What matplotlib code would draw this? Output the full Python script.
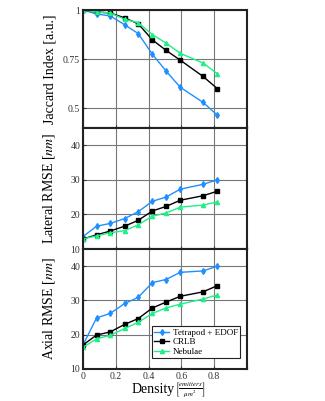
import matplotlib.pyplot as plt

plt.rcParams["font.family"] = ["Liberation Serif", "DejaVu Serif"]
plt.rcParams["mathtext.fontset"] = "stix"

# density values (emitters / um^2)
density = [0, 0.083, 0.166, 0.254, 0.337, 0.423, 0.506, 0.593, 0.732, 0.819]

# Jaccard index
jac_tetra = [1.0, 0.98, 0.97, 0.925, 0.88, 0.775, 0.69, 0.607, 0.53, 0.465]
jac_crlb = [1.0, 0.99, 0.985, 0.96, 0.93, 0.848, 0.795, 0.745, 0.662, 0.60]
jac_nebulae = [1.0, 0.99, 0.985, 0.953, 0.935, 0.875, 0.832, 0.78, 0.73, 0.676]

# lateral RMSE [nm]
lat_tetra = [13.6, 16.6, 17.4, 18.8, 20.8, 23.8, 25.0, 27.3, 28.7, 30.0]
lat_crlb = [12.9, 14.1, 15.2, 16.6, 18.3, 21.0, 22.3, 24.1, 25.4, 26.7]
lat_nebulae = [12.9, 13.8, 14.7, 15.3, 17.0, 19.5, 20.4, 22.1, 22.7, 23.6]

# axial RMSE [nm]
ax_tetra = [17.0, 24.9, 26.2, 29.1, 30.9, 35.2, 36.1, 38.2, 38.6, 40.0]
ax_crlb = [17.0, 19.9, 20.8, 23.0, 24.7, 27.8, 29.5, 31.2, 32.5, 34.3]
ax_nebulae = [16.3, 18.8, 19.8, 21.8, 23.6, 26.2, 27.8, 28.9, 30.4, 31.6]

labels = ["Tetrapod + EDOF", "CRLB", "Nebulae"]
colors = ["#1f8fff", "#000000", "#22ee88"]
markers = ["d", "s", "^"]

fig = plt.figure(figsize=(3.25, 4.01), dpi=100)
left, width = 0.2554, 0.5046
ax1 = fig.add_axes([left, 0.681, width, 0.294])
ax2 = fig.add_axes([left, 0.379, width, 0.302])
ax3 = fig.add_axes([left, 0.080, width, 0.299])

series = [
    (ax1, [jac_tetra, jac_crlb, jac_nebulae]),
    (ax2, [lat_tetra, lat_crlb, lat_nebulae]),
    (ax3, [ax_tetra, ax_crlb, ax_nebulae]),
]

for ax, ys in series:
    for y, c, m, lab in zip(ys, colors, markers, labels):
        ax.plot(density, y, color=c, marker=m, markersize=3, linewidth=1, label=lab)
    ax.set_xlim(0, 1)
    ax.set_xticks([0, 0.2, 0.4, 0.6, 0.8, 1.0])
    ax.grid(True, color="#777777", linewidth=0.8)
    ax.tick_params(direction="in", labelsize=7, length=2, colors="#333333", pad=2)
    for s in ax.spines.values():
        s.set_linewidth(1.5)
        s.set_color("#222222")
    ax.set_axisbelow(True)

ax1.set_ylim(0.4, 1)
ax1.set_yticks([0.5, 0.75, 1])
ax1.set_yticklabels(["0.5", "0.75", "1"])
ax1.set_ylabel("Jaccard Index [a.u.]", fontsize=10)

for ax in (ax2, ax3):
    ax.set_ylim(10, 45)
    ax.set_yticks([10, 20, 30, 40])

ax2.set_ylabel("Lateral RMSE [$nm$]", fontsize=10)
ax3.set_ylabel("Axial RMSE [$nm$]", fontsize=10)

for ax in (ax1, ax2):
    ax.set_xticklabels([])
ax3.set_xticklabels(["0", "0.2", "0.4", "0.6", "0.8", ""])

# x label in two parts: word at normal size, unit fraction smaller
fig.text(0.538, 0.02, "Density", fontsize=10, ha="right", va="baseline")
fig.text(0.538, 0.028, r"$\left[\frac{emitters}{\mu m^2}\right]$",
         fontsize=7, ha="left", va="center")

for ax in (ax1, ax2, ax3):
    ax.yaxis.set_label_coords(-0.16, 0.5)

leg = ax3.legend(loc="lower right", fontsize=6.5, frameon=True, fancybox=False,
                 handlelength=1.6, handletextpad=0.4, borderpad=0.25,
                 labelspacing=0.15, bbox_to_anchor=(0.985, 0.05))
leg.get_frame().set_edgecolor("#222222")
leg.get_frame().set_linewidth(0.8)
leg.get_frame().set_alpha(1)

plt.savefig("out.png", dpi=100)
